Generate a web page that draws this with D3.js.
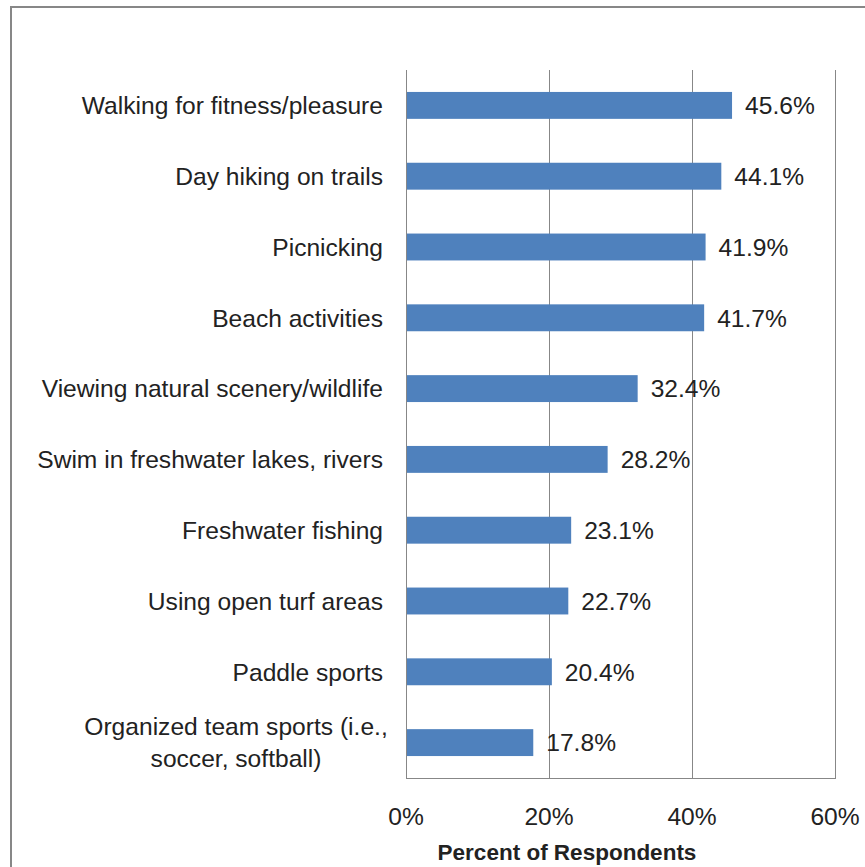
<!DOCTYPE html>
<html>
<head>
<meta charset="utf-8">
<script src="https://cdn.jsdelivr.net/npm/d3@7"></script>
<style>
  body { margin: 0; background: #fff; }
  text { font-family: "Liberation Sans", Arial, sans-serif; fill: #222; }
</style>
</head>
<body>
<div id="chart"></div>
<script>
var activities = [
  "Walking for fitness/pleasure",
  "Day hiking on trails",
  "Picnicking",
  "Beach activities",
  "Viewing natural scenery/wildlife",
  "Swim in freshwater lakes, rivers",
  "Freshwater fishing",
  "Using open turf areas",
  "Paddle sports",
  "Organized team sports (i.e.,\nsoccer, softball)"
];
var percents = [45.6, 44.1, 41.9, 41.7, 32.4, 28.2, 23.1, 22.7, 20.4, 17.8];
var xTicks = [0, 20, 40, 60];
var xTitle = "Percent of Respondents";

var W = 865, H = 867;
var margin = {top: 70, right: 30, bottom: 89, left: 406};
var width = W - margin.left - margin.right,
    height = H - margin.top - margin.bottom;
var fs = "24.6px";

var svg = d3.select("#chart").append("svg")
  .attr("width", W)
  .attr("height", H);

// outer frame, right and bottom edges fall off the picture
svg.append("rect")
  .attr("x", 11).attr("y", 7)
  .attr("width", 900).attr("height", 900)
  .attr("fill", "none")
  .attr("stroke", "#878787")
  .attr("stroke-width", 2);

var g = svg.append("g")
  .attr("transform", "translate(" + margin.left + "," + margin.top + ")");

var x = d3.scaleLinear().domain([0, 60]).range([0, width]);
var y = d3.scaleBand()
  .domain(activities)
  .range([0, height])
  .paddingInner(0.62)
  .paddingOuter(0.31);

// gridlines
g.selectAll("line.grid")
  .data(xTicks.slice(1))
  .enter().append("line")
  .attr("class", "grid")
  .attr("x1", d => Math.round(x(d)) + 0.5)
  .attr("x2", d => Math.round(x(d)) + 0.5)
  .attr("y1", 0)
  .attr("y2", height)
  .attr("stroke", "#878787")
  .attr("stroke-width", 1);

// bars
g.selectAll("rect.bar")
  .data(percents)
  .enter().append("rect")
  .attr("class", "bar")
  .attr("x", 0)
  .attr("y", (d, i) => y(activities[i]))
  .attr("width", d => x(d))
  .attr("height", y.bandwidth())
  .attr("fill", "#4F81BD");

// value labels
g.selectAll("text.val")
  .data(percents)
  .enter().append("text")
  .attr("class", "val")
  .attr("x", d => x(d) + 13)
  .attr("y", (d, i) => y(activities[i]) + y.bandwidth() / 2)
  .attr("dy", "0.36em")
  .style("font-size", fs)
  .text(d => d.toFixed(1) + "%");

// axes lines
g.append("line")
  .attr("x1", 0.5).attr("x2", 0.5)
  .attr("y1", 0).attr("y2", height)
  .attr("stroke", "#878787");
g.append("line")
  .attr("x1", 0).attr("x2", width + 1)
  .attr("y1", height + 0.5).attr("y2", height + 0.5)
  .attr("stroke", "#878787");

// category labels
var cat = g.selectAll("text.cat")
  .data(activities)
  .enter().append("text")
  .attr("class", "cat")
  .style("font-size", fs)
  .attr("y", d => y(d) + y.bandwidth() / 2);

cat.each(function(d) {
  var lines = d.split("\n");
  var t = d3.select(this);
  if (lines.length === 1) {
    t.attr("x", -23).attr("text-anchor", "end").attr("dy", "0.36em").text(d);
  } else {
    var lh = 32;
    var cx = -170;
    t.attr("text-anchor", "middle");
    lines.forEach(function(l, k) {
      t.append("tspan")
        .attr("x", cx)
        .attr("y", y(d) + y.bandwidth() / 2 + (k - (lines.length - 1) / 2) * lh)
        .attr("dy", "0.36em")
        .text(l);
    });
  }
});

// x tick labels
g.selectAll("text.tick")
  .data(xTicks)
  .enter().append("text")
  .attr("class", "tick")
  .attr("x", d => x(d))
  .attr("y", height + 38)
  .attr("dy", "0.36em")
  .attr("text-anchor", "middle")
  .style("font-size", fs)
  .text(d => d + "%");

// x title
g.append("text")
  .attr("x", 161)
  .attr("y", height + 74)
  .attr("dy", "0.36em")
  .attr("text-anchor", "middle")
  .style("font-size", "22.5px")
  .style("font-weight", "bold")
  .text(xTitle);
</script>
</body>
</html>
